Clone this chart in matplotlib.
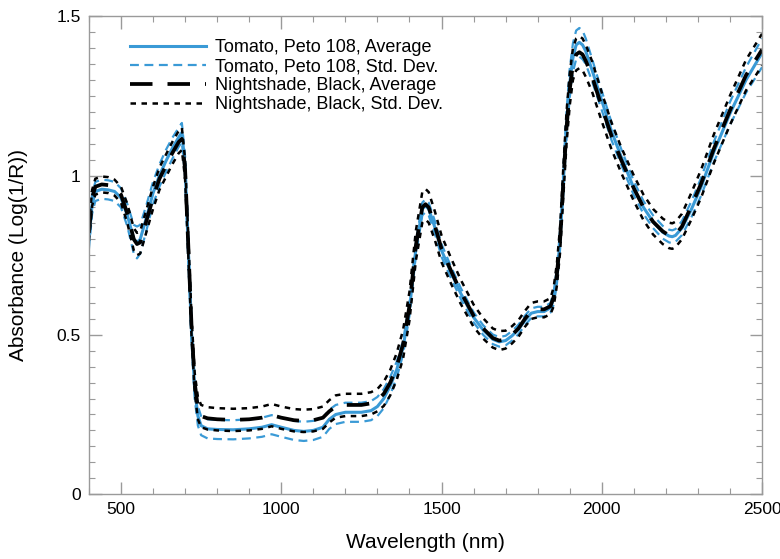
import numpy as np
import matplotlib
matplotlib.use("Agg")
import matplotlib.pyplot as plt
from matplotlib.ticker import MultipleLocator, FuncFormatter

plt.rcParams['font.family'] = ['Liberation Sans', 'DejaVu Sans']

# wavelengths (nm)
wl = [400, 410, 420, 440, 460, 480, 500, 520, 540, 550, 560, 580, 600, 620, 640, 660,
      680, 690, 700, 710, 720, 730, 740, 750, 770, 800, 850, 900, 940, 970, 1000, 1040,
      1070, 1100, 1130, 1150, 1170, 1200, 1250, 1280, 1300, 1320, 1340, 1360, 1380, 1400,
      1420, 1440, 1450, 1460, 1480, 1500, 1530, 1560, 1600, 1630, 1660, 1680, 1700, 1720,
      1740, 1760, 1780, 1800, 1820, 1840, 1850, 1860, 1870, 1880, 1890, 1900, 1910, 1920,
      1930, 1940, 1950, 1970, 2000, 2030, 2060, 2100, 2130, 2160, 2190, 2210, 2220, 2230,
      2250, 2280, 2310, 2350, 2400, 2450, 2500]

# Tomato, Peto 108 - average absorbance
tomato_avg = [0.80, 0.91, 0.95, 0.957, 0.955, 0.95, 0.93, 0.875, 0.80, 0.79, 0.80, 0.87,
              0.945, 1.00, 1.045, 1.085, 1.12, 1.135, 1.03, 0.77, 0.51, 0.33, 0.245, 0.215,
              0.205, 0.203, 0.202, 0.205, 0.21, 0.218, 0.21, 0.20, 0.197, 0.20, 0.21, 0.235,
              0.25, 0.257, 0.257, 0.262, 0.275, 0.30, 0.34, 0.39, 0.46, 0.58, 0.77, 0.895,
              0.905, 0.895, 0.835, 0.765, 0.695, 0.63, 0.555, 0.515, 0.486, 0.478, 0.482, 0.497,
              0.517, 0.545, 0.568, 0.573, 0.573, 0.585, 0.615, 0.685, 0.80, 0.98, 1.16, 1.29,
              1.37, 1.41, 1.418, 1.41, 1.39, 1.33, 1.235, 1.14, 1.06, 0.96, 0.90, 0.855,
              0.822, 0.81, 0.808, 0.812, 0.835, 0.895, 0.965, 1.075, 1.195, 1.30, 1.385]
tomato_sd = [0.03, 0.03, 0.03, 0.03, 0.03, 0.03, 0.03, 0.035, 0.045, 0.05, 0.045, 0.04,
             0.035, 0.035, 0.035, 0.033, 0.03, 0.03, 0.03, 0.03, 0.03, 0.03, 0.03, 0.03,
             0.03, 0.03, 0.03, 0.03, 0.03, 0.03, 0.03, 0.03, 0.03, 0.03, 0.03, 0.03,
             0.03, 0.03, 0.03, 0.03, 0.03, 0.03, 0.028, 0.025, 0.022, 0.02, 0.02, 0.02,
             0.02, 0.02, 0.02, 0.02, 0.018, 0.017, 0.016, 0.015, 0.015, 0.015, 0.015, 0.015,
             0.015, 0.015, 0.015, 0.015, 0.015, 0.015, 0.02, 0.025, 0.03, 0.035, 0.04, 0.045,
             0.045, 0.045, 0.045, 0.045, 0.04, 0.035, 0.03, 0.028, 0.025, 0.022, 0.02, 0.02,
             0.02, 0.02, 0.02, 0.02, 0.022, 0.025, 0.028, 0.032, 0.036, 0.04, 0.045]

# Nightshade, Black - average absorbance
night_avg = [0.82, 0.93, 0.965, 0.972, 0.97, 0.962, 0.94, 0.88, 0.80, 0.785, 0.79, 0.86,
             0.93, 0.99, 1.03, 1.07, 1.105, 1.115, 1.02, 0.78, 0.53, 0.35, 0.27, 0.245,
             0.238, 0.235, 0.233, 0.235, 0.24, 0.248, 0.24, 0.232, 0.23, 0.232, 0.24, 0.26,
             0.275, 0.28, 0.28, 0.285, 0.295, 0.315, 0.35, 0.40, 0.47, 0.59, 0.78, 0.90,
             0.91, 0.90, 0.84, 0.77, 0.70, 0.635, 0.56, 0.52, 0.49, 0.482, 0.485, 0.50,
             0.52, 0.55, 0.575, 0.58, 0.58, 0.59, 0.62, 0.69, 0.80, 0.98, 1.15, 1.27,
             1.35, 1.38, 1.387, 1.38, 1.36, 1.31, 1.215, 1.125, 1.05, 0.96, 0.90, 0.855,
             0.825, 0.812, 0.81, 0.815, 0.84, 0.905, 0.975, 1.085, 1.205, 1.315, 1.395]
night_sd = [0.025, 0.025, 0.025, 0.025, 0.025, 0.025, 0.025, 0.03, 0.035, 0.035, 0.035, 0.035,
            0.035, 0.035, 0.035, 0.035, 0.035, 0.035, 0.03, 0.03, 0.03, 0.03, 0.035, 0.035,
            0.035, 0.035, 0.035, 0.035, 0.035, 0.035, 0.035, 0.035, 0.035, 0.035, 0.035, 0.035,
            0.035, 0.035, 0.035, 0.035, 0.035, 0.038, 0.04, 0.042, 0.045, 0.045, 0.047, 0.048,
            0.048, 0.048, 0.045, 0.042, 0.04, 0.038, 0.035, 0.032, 0.03, 0.03, 0.028, 0.027,
            0.026, 0.025, 0.025, 0.025, 0.025, 0.025, 0.03, 0.035, 0.04, 0.045, 0.05, 0.05,
            0.05, 0.05, 0.05, 0.05, 0.05, 0.048, 0.045, 0.042, 0.04, 0.04, 0.04, 0.04,
            0.04, 0.04, 0.04, 0.04, 0.04, 0.042, 0.044, 0.045, 0.046, 0.048, 0.05]

wl = np.array(wl)
tomato_avg = np.array(tomato_avg)
tomato_sd = np.array(tomato_sd)
night_avg = np.array(night_avg)
night_sd = np.array(night_sd)

blue = "#3a9ad6"

fig = plt.figure(figsize=(7.8, 5.59), dpi=100)
ax = fig.add_axes([0.114, 0.116, 0.863, 0.855])

ax.plot(wl, tomato_avg, color=blue, lw=2.2, label="Tomato, Peto 108, Average")
ax.plot(wl, tomato_avg + tomato_sd, color=blue, lw=1.6, ls=(0, (4, 2.5)),
        label="Tomato, Peto 108, Std. Dev.")
ax.plot(wl, tomato_avg - tomato_sd, color=blue, lw=1.6, ls=(0, (4, 2.5)))
ax.plot(wl, night_avg, color="black", lw=2.7, ls=(0, (6, 4)),
        label="Nightshade, Black, Average")
ax.plot(wl, night_avg + night_sd, color="black", lw=1.8, ls=(0, (2.2, 2.2)),
        label="Nightshade, Black, Std. Dev.")
ax.plot(wl, night_avg - night_sd, color="black", lw=1.8, ls=(0, (2.2, 2.2)))

ax.set_xlim(400, 2500)
ax.set_ylim(0, 1.5)
ax.xaxis.set_major_locator(MultipleLocator(500))
ax.xaxis.set_minor_locator(MultipleLocator(100))
ax.yaxis.set_major_locator(MultipleLocator(0.5))
ax.yaxis.set_minor_locator(MultipleLocator(0.05))
ax.yaxis.set_major_formatter(FuncFormatter(lambda v, p: f"{v:g}"))

for s in ax.spines.values():
    s.set_color("#9a9a9a")
    s.set_linewidth(1.0)
ax.tick_params(which="both", direction="in", top=True, right=True, color="#9a9a9a",
               labelsize=12.5, pad=6)
ax.tick_params(which="major", length=9, width=1.0)
ax.tick_params(which="minor", length=4.5, width=0.8)

ax.set_xlabel("Wavelength (nm)", fontsize=15, labelpad=11)
ax.set_ylabel("Absorbance (Log(1/R))", fontsize=15, labelpad=20)

ax.legend(loc="upper left", bbox_to_anchor=(0.045, 0.975), frameon=False, fontsize=13,
          handlelength=4.2, handletextpad=0.5, labelspacing=0.12, borderaxespad=0.2)

fig.savefig("out.png", dpi=100)
